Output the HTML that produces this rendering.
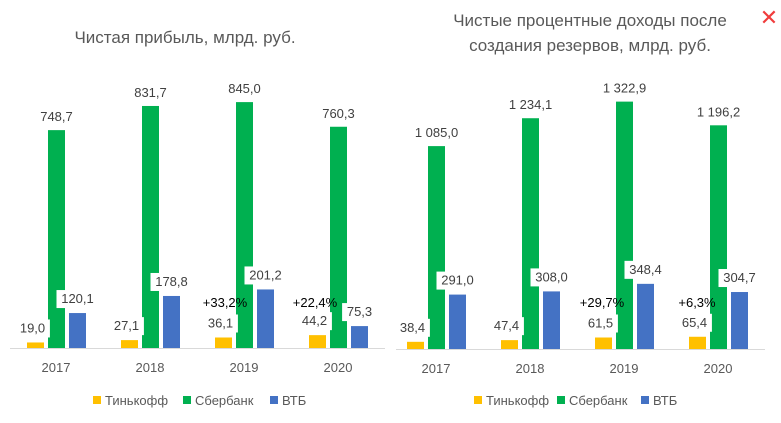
<!DOCTYPE html><html><head><meta charset="utf-8"><style>body{margin:0;background:#fff}svg{display:block;font-family:"Liberation Sans",sans-serif}</style></head><body>
<svg id="s" width="781" height="423" xmlns="http://www.w3.org/2000/svg">
<text x="185" y="43" text-anchor="middle" font-size="17" fill="#595959">Чистая прибыль, млрд. руб.</text>
<text x="590" y="26" text-anchor="middle" font-size="17" fill="#595959">Чистые процентные доходы после</text>
<text x="590" y="51" text-anchor="middle" font-size="17" fill="#595959">создания резервов, млрд. руб.</text>
<text x="769" y="25" text-anchor="middle" font-size="22" fill="#f03c3c">✕</text>
<line x1="10" y1="348.5" x2="385" y2="348.5" stroke="#d9d9d9"/>
<line x1="396" y1="349.5" x2="765" y2="349.5" stroke="#d9d9d9"/>
</svg>
<script>
var s=document.getElementById('s'),ns='http://www.w3.org/2000/svg';
function el(t,a,txt){var e=document.createElementNS(ns,t);for(var k in a)e.setAttribute(k,a[k]);if(txt)e.textContent=txt;s.appendChild(e);return e;}
function lab(x,y,t,c){var w=t.length*7.2+6;el('rect',{x:x-w/2,y:y-13,width:w,height:18,fill:'#fff'});el('text',{x:x,y:y,'text-anchor':'middle','font-size':13,fill:c||'#404040'},t);}
var C=['#ffc000','#00b050','#4472c4'];
function chart(c0,base,sc,data,labs,years,pct){
 for(var i=0;i<4;i++){var c=c0+94*i,off=[-29,-8,13];
  for(var j=0;j<3;j++){var h=data[j][i]*sc;el('rect',{x:c+off[j],y:base-h,width:17,height:h,fill:C[j]});}
  el('text',{x:c,y:base+24,'text-anchor':'middle','font-size':13,fill:'#595959'},years[i]);
 }
 for(var i=0;i<4;i++){var c=c0+94*i;
  [1,2,0].forEach(function(j){var h=data[j][i]*sc;lab(c+[-29,-8,13][j]+8.5+(j==0?-3:0),base-h-(j==1?9:10),labs[j][i]);});
 }
 pct.forEach(function(p){el('text',{x:p[0],y:307,'text-anchor':'middle','font-size':13,fill:'#000'},p[1]);});
}
var Y=['2017','2018','2019','2020'];
chart(56,348,0.291,[[19,27.1,36.1,44.2],[748.7,831.7,845,760.3],[120.1,178.8,201.2,75.3]],
 [['19,0','27,1','36,1','44,2'],['748,7','831,7','845,0','760,3'],['120,1','178,8','201,2','75,3']],Y,[[225,'+33,2%'],[315,'+22,4%']]);
chart(436,349,0.187,[[38.4,47.4,61.5,65.4],[1085,1234.1,1322.9,1196.2],[291,308,348.4,304.7]],
 [['38,4','47,4','61,5','65,4'],['1 085,0','1 234,1','1 322,9','1 196,2'],['291,0','308,0','348,4','304,7']],Y,[[602,'+29,7%'],[697,'+6,3%']]);
function leg(xs,y){var n=['Тинькофф','Сбербанк','ВТБ'];for(var j=0;j<3;j++){el('rect',{x:xs[j],y:y-9,width:8,height:8,fill:C[j]});el('text',{x:xs[j]+12,y:y,'font-size':13,fill:'#595959'},n[j]);}}
leg([93,183,270],405);leg([474,557,641],405);
</script></body></html>
